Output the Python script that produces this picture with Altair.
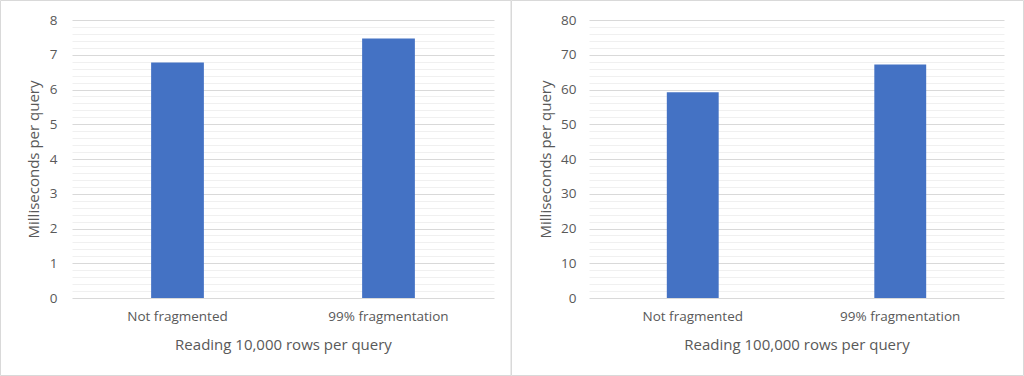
import altair as alt
import pandas as pd

categories = ["Not fragmented", "99% fragmentation"]
values_10k = [6.78, 7.47]
values_100k = [59.2, 67.2]

title_10k = "Reading 10,000 rows per query"
title_100k = "Reading 100,000 rows per query"
y_title = "Milliseconds per query"

FONT = "Open Sans"
TEXT = "#595959"
BAR = "#4472C4"
MAJOR = "#d9d9d9"
MINOR = "#f0f0f0"
BORDER = "#d9d9d9"


def panel(values, xtitle, ymax, minor_step, major_step, width, height,
          border_left, border_right, title_x, label_pad):
    df = pd.DataFrame({"category": categories, "value": values})
    n = int(round(ymax / minor_step))
    grid_vals = [round(i * minor_step, 6) for i in range(n + 1)]
    is_major = f"abs(datum.value / {major_step} - round(datum.value / {major_step})) < 1e-6"

    bars = alt.Chart(df).mark_bar(color=BAR).encode(
        x=alt.X(
            "category:N",
            sort=categories,
            scale=alt.Scale(paddingInner=0.75, paddingOuter=0.375),
            axis=alt.Axis(
                title=xtitle,
                labelAngle=0,
                domain=False,
                ticks=False,
                labelFont=FONT,
                labelFontSize=13.5,
                labelColor=TEXT,
                labelPadding=11,
                titleFont=FONT,
                titleFontSize=15,
                titleFontWeight="normal",
                titleColor=TEXT,
                titleY=46,
                titleBaseline="middle",
            ),
        ),
        y=alt.Y(
            "value:Q",
            scale=alt.Scale(domain=[0, ymax], nice=False),
            axis=alt.Axis(
                title=y_title,
                values=grid_vals,
                format=".0f",
                labelExpr=f"{is_major} ? datum.label : ''",
                labelOverlap=False,
                domain=False,
                ticks=False,
                gridColor={"condition": {"test": is_major, "value": MAJOR}, "value": MINOR},
                gridWidth=1,
                labelFont=FONT,
                labelFontSize=13.5,
                labelColor=TEXT,
                labelPadding=label_pad,
                titleFont=FONT,
                titleFontSize=15,
                titleFontWeight="normal",
                titleColor=TEXT,
                titleX=title_x,
                titleY=height / 2,
                titleBaseline="middle",
            ),
        ),
    )

    border = alt.Chart(pd.DataFrame({"a": [0]})).mark_rect(
        filled=False, stroke=BORDER, strokeWidth=1
    ).encode(
        x=alt.value(border_left),
        x2=alt.value(border_right),
        y=alt.value(-19.5),
        y2=alt.value(355.5),
    )

    return alt.layer(border, bars).properties(width=width, height=height)


left = panel(values_10k, title_10k, 8, 0.2, 1, 422, 278, -71.5, 439, -39, 15)
right = panel(values_100k, title_100k, 80, 2, 10, 415, 278, -77.5, 434.5, -44, 13)

chart = alt.hconcat(left, right, spacing=95, bounds="flush").properties(
    padding=0, background="white"
).configure_view(stroke=None)

chart.save("out.html", embed_options={"renderer": "svg", "actions": False})
